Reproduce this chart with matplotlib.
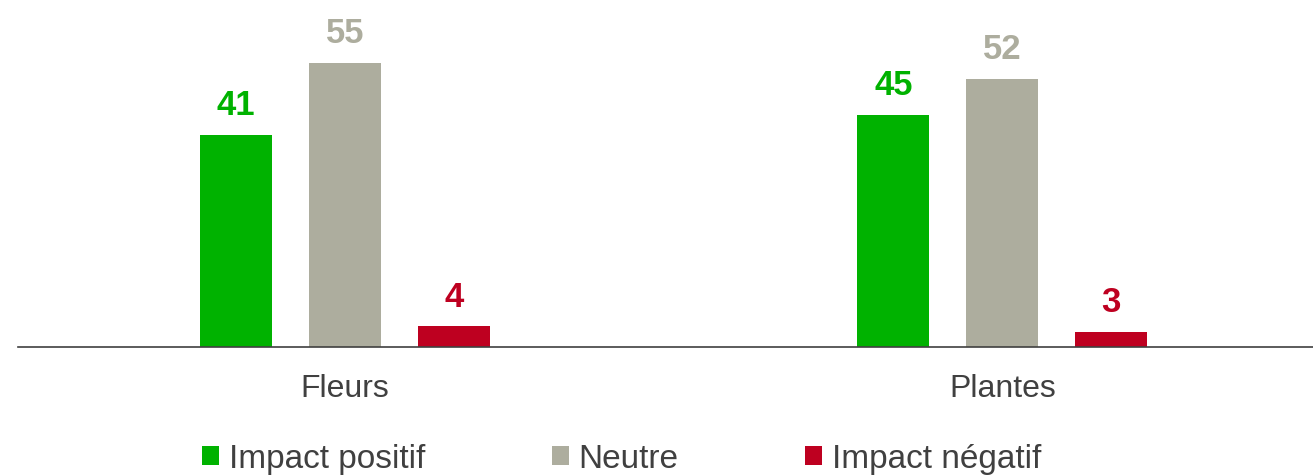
import numpy as np
import matplotlib.pyplot as plt

plt.rcParams["font.family"] = ["Liberation Sans", "DejaVu Sans"]

categories = ["Fleurs", "Plantes"]
series_names = ["Impact positif", "Neutre", "Impact négatif"]
positif = [41, 45]
neutre = [55, 52]
negatif = [4, 3]

colors = ["#00B200", "#ADAD9E", "#BE0020"]
text_color = "#404040"

fig = plt.figure(figsize=(13.13, 4.77), dpi=100)
ax = fig.add_axes([0.0137, 0.2704, 0.9863, 0.7296])

group_x = np.array([0.0, 6.03])
offsets = [-1, 0, 1]
bar_width = 0.66

handles = []
for values, offset, color, name in zip([positif, neutre, negatif], offsets, colors, series_names):
    bars = ax.bar(group_x + offset, values, width=bar_width, color=color, label=name)
    handles.append(bars)
    for xpos, val in zip(group_x + offset, values):
        ax.annotate(
            str(val),
            xy=(xpos, val),
            xytext=(0, 15),
            textcoords="offset points",
            ha="center",
            va="baseline",
            fontsize=25,
            fontweight="bold",
            color=color,
        )

ax.set_xlim(-3.0, 8.88)
ax.set_ylim(0, 67.4)
ax.set_xticks(group_x)
ax.set_xticklabels(categories, fontsize=23, color=text_color)
ax.tick_params(axis="x", length=0, pad=19)
ax.set_yticks([])

for side in ["top", "right", "left"]:
    ax.spines[side].set_visible(False)
ax.spines["bottom"].set_color(text_color)
ax.spines["bottom"].set_linewidth(1.2)

fig.legend(
    handles=handles,
    labels=series_names,
    loc="center left",
    bbox_to_anchor=(202 / 1313, 1 - 460 / 477),
    ncol=3,
    frameon=False,
    fontsize=24,
    handlelength=0.52,
    handleheight=0.52,
    handletextpad=0.28,
    columnspacing=3.8,
    borderaxespad=0,
    borderpad=0,
    labelcolor=text_color,
)

fig.savefig("out.png", dpi=100)
